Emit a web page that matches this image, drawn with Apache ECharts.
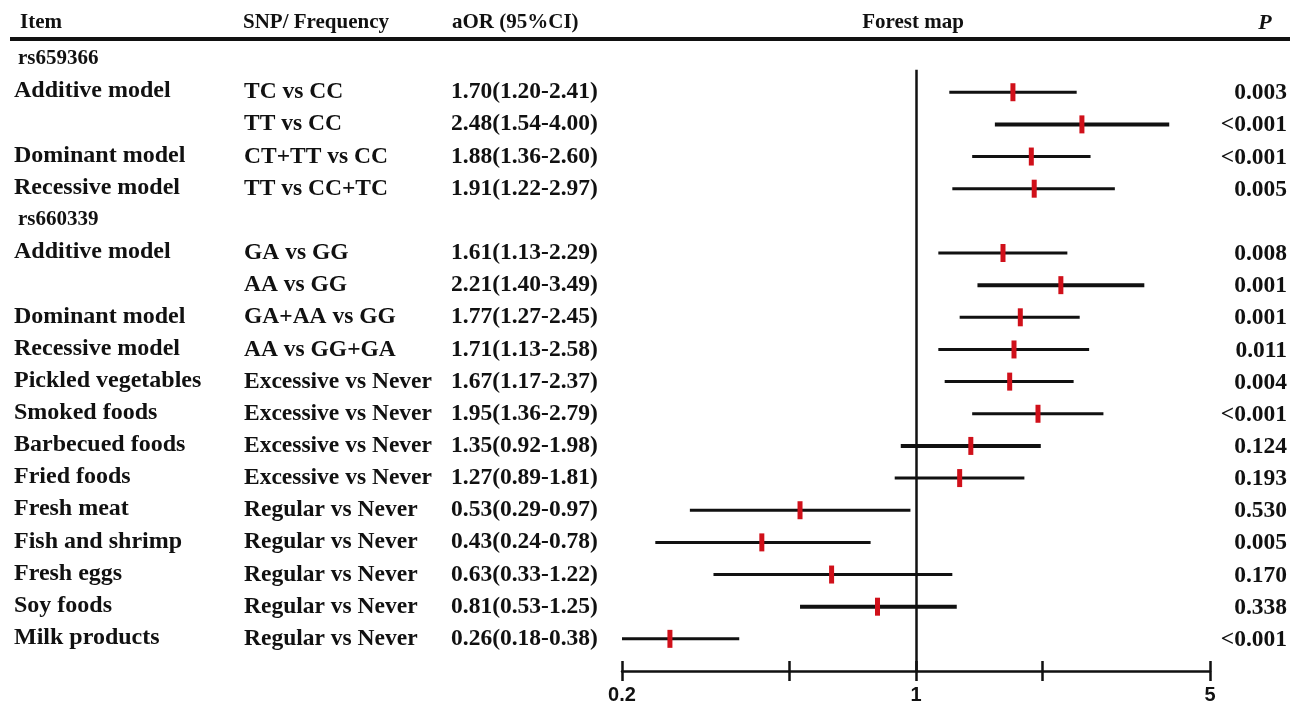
<!DOCTYPE html>
<html>
<head>
<meta charset="utf-8">
<script src="https://cdn.jsdelivr.net/npm/echarts@6/dist/echarts.min.js"></script>
<style>
html,body{margin:0;padding:0;background:#fff;}
#chart{width:1290px;height:705px;}
</style>
</head>
<body>
<div id="chart"></div>
<script>
// ---- data ----
const items = ['rs659366','Additive model','','Dominant model','Recessive model','rs660339','Additive model','','Dominant model','Recessive model','Pickled vegetables','Smoked foods','Barbecued foods','Fried foods','Fresh meat','Fish and shrimp','Fresh eggs','Soy foods','Milk products'];
const comparisons = ['','TC vs CC','TT vs CC','CT+TT vs CC','TT vs CC+TC','','GA vs GG','AA vs GG','GA+AA vs GG','AA vs GG+GA','Excessive vs Never','Excessive vs Never','Excessive vs Never','Excessive vs Never','Regular vs Never','Regular vs Never','Regular vs Never','Regular vs Never','Regular vs Never'];
const orValues = [null,1.70,2.48,1.88,1.91,null,1.61,2.21,1.77,1.71,1.67,1.95,1.35,1.27,0.53,0.43,0.63,0.81,0.26];
const lowerCI  = [null,1.20,1.54,1.36,1.22,null,1.13,1.40,1.27,1.13,1.17,1.36,0.92,0.89,0.29,0.24,0.33,0.53,0.18];
const upperCI  = [null,2.41,4.00,2.60,2.97,null,2.29,3.49,2.45,2.58,2.37,2.79,1.98,1.81,0.97,0.78,1.22,1.25,0.38];
const pValues  = ['','0.003','<0.001','<0.001','0.005','','0.008','0.001','0.001','0.011','0.004','<0.001','0.124','0.193','0.530','0.005','0.170','0.338','<0.001'];
const tickValues = [0.2, 0.5, 1, 2, 5];
const tickLabelValues = [0.2, 1, 5];
const headers = ['Item', 'SNP/ Frequency', 'aOR (95%CI)', 'Forest map', 'P'];

// ---- style helpers ----
const thickRows = new Set([2, 7, 12, 17]);
const SERIF = '"Liberation Serif","Times New Roman",serif';
const TXT = '#111';
const RED = '#d0101a';

const aorLabels = orValues.map((v, i) => v == null ? '' :
  v.toFixed(2) + '(' + lowerCI[i].toFixed(2) + '-' + upperCI[i].toFixed(2) + ')');

const barData = [];
orValues.forEach((v, i) => { if (v != null) barData.push([i, v, lowerCI[i], upperCI[i]]); });
const rowData = items.map((_, i) => [1, i]);

function mkText(x, y, text, font, align) {
  return {
    type: 'text', x: x, y: y,
    style: { text: text, font: font, fill: TXT, align: align || 'left', textAlign: align || 'left',
             verticalAlign: 'middle', textVerticalAlign: 'middle' }
  };
}

const chart = echarts.init(document.getElementById('chart'), null, { renderer: 'canvas' });
const option = {
  backgroundColor: '#fff',
  animation: false,
  grid: { left: 622, right: 80, top: 44, bottom: 31 },
  xAxis: [{
    type: 'log', logBase: 10, min: 0.2, max: 5, position: 'bottom',
    axisLine: { show: true, onZero: false, lineStyle: { color: TXT, width: 2.5 } },
    axisTick: { show: true, length: 10, inside: false, customValues: tickValues, lineStyle: { color: TXT, width: 2.5 } },
    axisLabel: { show: true, customValues: tickLabelValues, margin: 14,
      formatter: v => String(+(+v).toPrecision(3)),
      fontFamily: '"Liberation Sans",Arial,sans-serif', fontWeight: 'bold', fontSize: 20, color: TXT },
    splitLine: { show: false }, minorTick: { show: false }
  }, {
    type: 'log', logBase: 10, min: 0.2, max: 5, position: 'bottom', gridIndex: 0,
    axisLine: { show: false, onZero: false },
    axisTick: { show: true, length: 10, inside: true, customValues: tickValues, lineStyle: { color: TXT, width: 2.5 } },
    axisLabel: { show: false }, splitLine: { show: false }, minorTick: { show: false }
  }],
  yAxis: {
    type: 'value', inverse: true, min: -0.5, max: 19, show: false
  },
  graphic: [
    { type: 'line', shape: { x1: 10, y1: 39, x2: 1290, y2: 39 }, style: { stroke: TXT, lineWidth: 4 } },
    mkText(20, 23, headers[0], 'bold 21px ' + SERIF),
    mkText(243, 23, headers[1], 'bold 21px ' + SERIF),
    mkText(452, 23, headers[2], 'bold 21px ' + SERIF),
    mkText(913, 23, headers[3], 'bold 21px ' + SERIF, 'center'),
    mkText(1265, 23, headers[4], 'italic bold 22px ' + SERIF, 'center')
  ],
  series: [{
    type: 'custom',
    name: 'ci',
    xAxisIndex: 0, yAxisIndex: 0,
    clip: true,
    data: barData,
    encode: { x: [1, 2, 3], y: 0 },
    renderItem: function (params, api) {
      const r = api.value(0);
      const p = api.coord([api.value(1), r]);
      const lo = api.coord([api.value(2), r]);
      const hi = api.coord([api.value(3), r]);
      const lw = thickRows.has(r) ? 4 : 3;
      return {
        type: 'group',
        children: [
          { type: 'line', shape: { x1: lo[0], y1: lo[1], x2: hi[0], y2: hi[1] }, style: { stroke: TXT, lineWidth: lw } },
          { type: 'rect', shape: { x: p[0] - 2.5, y: p[1] - 9, width: 5, height: 18 }, style: { fill: RED } }
        ]
      };
    },
    markLine: {
      silent: true, symbol: 'none', animation: false,
      label: { show: false },
      lineStyle: { color: TXT, width: 2.5, type: 'solid' },
      data: [[{ coord: [1, 0.3] }, { coord: [1, 19] }]]
    }
  }, {
    type: 'custom',
    name: 'table',
    xAxisIndex: 0, yAxisIndex: 0,
    clip: false,
    data: rowData,
    encode: { x: 0, y: 1 },
    renderItem: function (params, api) {
      const i = params.dataIndex;
      const y = api.coord([1, api.value(1)])[1];
      const isHead = items[i].indexOf('rs') === 0;
      const children = [];
      if (items[i]) children.push(mkText(isHead ? 18 : 14, y - 1, items[i], 'bold ' + (isHead ? 21 : 24) + 'px ' + SERIF));
      if (comparisons[i]) children.push(mkText(244, y, comparisons[i], 'bold 23.5px ' + SERIF));
      if (aorLabels[i]) children.push(mkText(451, y, aorLabels[i], 'bold 23.5px ' + SERIF));
      if (pValues[i]) children.push(mkText(1287, y + 1, pValues[i], 'bold 23.5px ' + SERIF, 'right'));
      return { type: 'group', children: children };
    }
  }]
};
chart.setOption(option);
</script>
</body>
</html>
